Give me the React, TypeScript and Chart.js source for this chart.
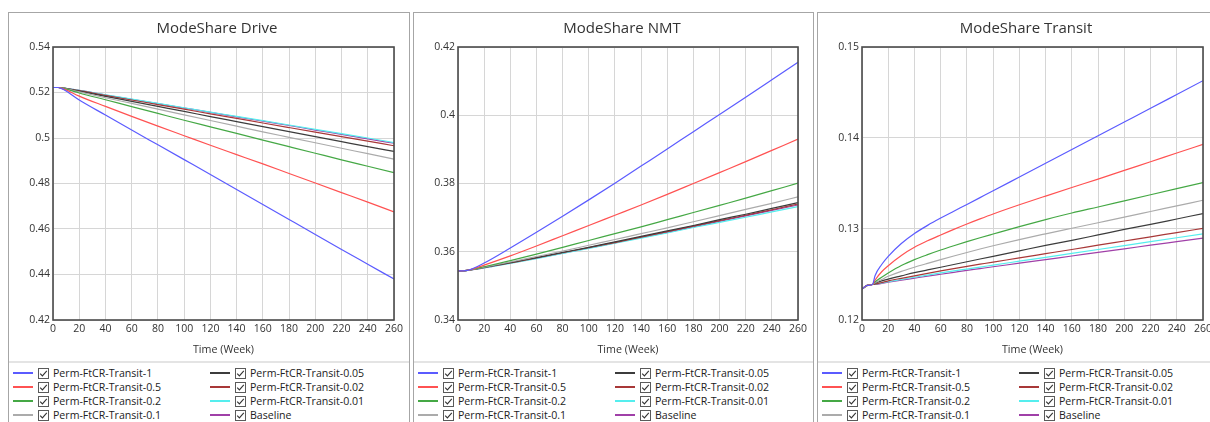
import React, { useEffect, useRef } from "react";
import { Chart, registerables } from "chart.js";

Chart.register(...registerables);

// ---------- data ----------
const SERIES_NAMES = [
  "Perm-FtCR-Transit-1",
  "Perm-FtCR-Transit-0.5",
  "Perm-FtCR-Transit-0.2",
  "Perm-FtCR-Transit-0.1",
  "Perm-FtCR-Transit-0.05",
  "Perm-FtCR-Transit-0.02",
  "Perm-FtCR-Transit-0.01",
  "Baseline",
];
const SERIES_COLORS = [
  "#5b5bff",
  "#ff5252",
  "#45a845",
  "#ababab",
  "#3c3c3c",
  "#a83838",
  "#55eeee",
  "#a040a8",
];

const X_TICKS = [0, 20, 40, 60, 80, 100, 120, 140, 160, 180, 200, 220, 240, 260];

// Drive / NMT time points (weeks)
const TIME_A = [0, 4, 8, 20, 40, 60, 80, 100, 120, 140, 160, 180, 200, 220, 240, 260];

const DRIVE_T1 = [0.5222, 0.5222, 0.5213, 0.5167, 0.5101, 0.5035, 0.497, 0.4905, 0.484, 0.4774, 0.4708, 0.4642, 0.4576, 0.451, 0.4445, 0.438];
const DRIVE_T05 = [0.5222, 0.5222, 0.5216, 0.5184, 0.5139, 0.5095, 0.5052, 0.501, 0.4968, 0.4927, 0.4886, 0.4844, 0.4802, 0.476, 0.4718, 0.4675];
const DRIVE_T02 = [0.5222, 0.5222, 0.5218, 0.5198, 0.5168, 0.5138, 0.5108, 0.5078, 0.5049, 0.502, 0.4991, 0.4962, 0.4933, 0.4904, 0.4876, 0.4848];
const DRIVE_T01 = [0.5222, 0.5222, 0.5219, 0.5203, 0.5177, 0.5152, 0.5127, 0.5102, 0.5077, 0.5052, 0.5027, 0.5003, 0.4979, 0.4955, 0.4931, 0.4907];
const DRIVE_T005 = [0.5222, 0.5222, 0.5219, 0.5206, 0.5183, 0.5161, 0.5139, 0.5117, 0.5094, 0.5072, 0.505, 0.5028, 0.5006, 0.4984, 0.4962, 0.4941];
const DRIVE_T002 = [0.5222, 0.5222, 0.5219, 0.5208, 0.5187, 0.5167, 0.5147, 0.5127, 0.5106, 0.5086, 0.5066, 0.5046, 0.5026, 0.5006, 0.4986, 0.4966];
const DRIVE_T001 = [0.5222, 0.5222, 0.5219, 0.521, 0.519, 0.5171, 0.5152, 0.5133, 0.5114, 0.5095, 0.5076, 0.5057, 0.5038, 0.5019, 0.5, 0.498];
const DRIVE_BASE = [0.5222, 0.5222, 0.5219, 0.5209, 0.5189, 0.517, 0.5151, 0.5132, 0.5113, 0.5093, 0.5074, 0.5055, 0.5035, 0.5016, 0.4996, 0.4977];

const NMT_T1 = [0.3544, 0.3544, 0.3546, 0.3567, 0.3611, 0.3657, 0.3704, 0.3752, 0.3801, 0.3851, 0.3901, 0.3952, 0.4002, 0.4053, 0.4104, 0.4155];
const NMT_T05 = [0.3544, 0.3544, 0.3546, 0.3561, 0.3588, 0.3617, 0.3647, 0.3677, 0.3707, 0.3737, 0.3768, 0.38, 0.3832, 0.3864, 0.3897, 0.393];
const NMT_T02 = [0.3544, 0.3544, 0.3546, 0.3556, 0.3574, 0.3593, 0.3613, 0.3633, 0.3653, 0.3673, 0.3694, 0.3715, 0.3736, 0.3757, 0.3779, 0.3801];
const NMT_T01 = [0.3544, 0.3544, 0.3546, 0.3555, 0.357, 0.3586, 0.3602, 0.3619, 0.3636, 0.3653, 0.367, 0.3688, 0.3706, 0.3724, 0.3742, 0.3761];
const NMT_T005 = [0.3544, 0.3544, 0.3546, 0.3554, 0.3568, 0.3583, 0.3598, 0.3613, 0.3629, 0.3645, 0.3661, 0.3677, 0.3694, 0.371, 0.3727, 0.3744];
const NMT_T002 = [0.3544, 0.3544, 0.3546, 0.3554, 0.3567, 0.3582, 0.3597, 0.3612, 0.3627, 0.3643, 0.3659, 0.3675, 0.3691, 0.3707, 0.3723, 0.374];
const NMT_T001 = [0.3544, 0.3544, 0.3546, 0.3553, 0.3566, 0.358, 0.3595, 0.361, 0.3625, 0.364, 0.3655, 0.3671, 0.3686, 0.3701, 0.3717, 0.3732];
const NMT_BASE = [0.3544, 0.3544, 0.3546, 0.3553, 0.3567, 0.3581, 0.3596, 0.3611, 0.3626, 0.3642, 0.3657, 0.3673, 0.3689, 0.3705, 0.3721, 0.3737];

// Transit time points (weeks)
const TIME_B = [0, 4, 8, 10, 15, 20, 30, 40, 50, 60, 70, 80, 90, 100, 120, 140, 160, 180, 200, 220, 240, 260];

const TRANSIT_T1 = [0.1234, 0.1238, 0.1239, 0.1249, 0.1261, 0.127, 0.1284, 0.1295, 0.1304, 0.1312, 0.13195, 0.1327, 0.13345, 0.1342, 0.13571, 0.13722, 0.13873, 0.14024, 0.14175, 0.14326, 0.14478, 0.1463];
const TRANSIT_T05 = [0.1234, 0.1238, 0.1239, 0.1244, 0.1253, 0.12597, 0.1271, 0.12799, 0.1287, 0.12934, 0.12996, 0.13055, 0.13111, 0.13165, 0.13266, 0.13362, 0.13456, 0.13548, 0.13644, 0.13739, 0.13835, 0.1393];
const TRANSIT_T02 = [0.1234, 0.1238, 0.1239, 0.1242, 0.1247, 0.12516, 0.12598, 0.12663, 0.12718, 0.12769, 0.12816, 0.12861, 0.12904, 0.12945, 0.13026, 0.13103, 0.13176, 0.13242, 0.13309, 0.13376, 0.13443, 0.1351];
const TRANSIT_T01 = [0.1234, 0.1238, 0.1239, 0.1241, 0.12445, 0.1248, 0.12535, 0.1258, 0.12622, 0.12663, 0.12703, 0.12742, 0.1278, 0.12816, 0.12884, 0.12947, 0.13008, 0.13069, 0.1313, 0.13192, 0.13254, 0.13316];
const TRANSIT_T005 = [0.1234, 0.1238, 0.1239, 0.12405, 0.1243, 0.1245, 0.12485, 0.1252, 0.1255, 0.1258, 0.1261, 0.1264, 0.1267, 0.127, 0.1276, 0.1282, 0.12875, 0.12935, 0.12995, 0.1305, 0.1311, 0.1317];
const TRANSIT_T002 = [0.1234, 0.1238, 0.1239, 0.12395, 0.12412, 0.1243, 0.12458, 0.12485, 0.12513, 0.1254, 0.12565, 0.1259, 0.12613, 0.12636, 0.12683, 0.12729, 0.12775, 0.12822, 0.12868, 0.12914, 0.12961, 0.13007];
const TRANSIT_T001 = [0.1234, 0.1238, 0.1239, 0.12393, 0.12407, 0.1242, 0.12445, 0.1247, 0.12494, 0.12517, 0.12539, 0.1256, 0.12581, 0.12603, 0.12646, 0.12689, 0.12732, 0.12775, 0.12818, 0.12861, 0.12904, 0.12947];
const TRANSIT_BASE = [0.1234, 0.1238, 0.1239, 0.1239, 0.12403, 0.12415, 0.12438, 0.1246, 0.12482, 0.12503, 0.12524, 0.12545, 0.12565, 0.12585, 0.12624, 0.12664, 0.12703, 0.12743, 0.12782, 0.12822, 0.12861, 0.129];

const DRIVE_Y_TICKS = [0.42, 0.44, 0.46, 0.48, 0.5, 0.52, 0.54];
const NMT_Y_TICKS = [0.34, 0.36, 0.38, 0.4, 0.42];
const TRANSIT_Y_TICKS = [0.12, 0.13, 0.14, 0.15];

// ---------- chart ----------
const FONT = "'Open Sans', 'Noto Sans', sans-serif";

const framePlugin = {
  id: "frame",
  afterDraw(chart: any) {
    const { ctx, chartArea } = chart;
    ctx.save();
    ctx.strokeStyle = "#4a4a4a";
    ctx.lineWidth = 1.6;
    ctx.strokeRect(chartArea.left, chartArea.top, chartArea.right - chartArea.left, chartArea.bottom - chartArea.top);
    ctx.restore();
  },
};

type PanelProps = {
  left: number;
  width: number;
  title: string;
  time: number[];
  series: number[][];
  yTicks: number[];
};

function Panel({ left, width, title, time, series, yTicks }: PanelProps) {
  const ref = useRef<HTMLCanvasElement | null>(null);

  useEffect(() => {
    if (!ref.current) return;
    const yMin = yTicks[0];
    const yMax = yTicks[yTicks.length - 1];
    const chart = new Chart(ref.current, {
      type: "line",
      data: {
        datasets: series.map((vals, i) => ({
          label: SERIES_NAMES[i],
          data: vals.map((v, j) => ({ x: time[j], y: v })),
          borderColor: SERIES_COLORS[i],
          backgroundColor: SERIES_COLORS[i],
          borderWidth: 1.2,
          pointRadius: 0,
          fill: false,
          cubicInterpolationMode: "monotone",
        })),
      },
      options: {
        animation: false,
        responsive: false,
        maintainAspectRatio: false,
        layout: { padding: { left: 0, right: 15, top: 34, bottom: 0 } },
        plugins: {
          legend: { display: false },
          tooltip: { enabled: false },
          title: { display: false },
        },
        scales: {
          x: {
            type: "linear",
            min: 0,
            max: 260,
            afterFit: (s: any) => {
              s.height = 41;
            },
            afterBuildTicks: (s: any) => {
              s.ticks = X_TICKS.map((v) => ({ value: v }));
            },
            ticks: {
              autoSkip: false,
              maxRotation: 0,
              padding: 3,
              color: "#333",
              font: { family: FONT, size: 10.5 },
            },
            grid: { color: "#d6d6d6", lineWidth: 1, drawTicks: false },
            border: { display: false },
            title: {
              display: true,
              text: "Time (Week)",
              color: "#333",
              font: { family: FONT, size: 10.7 },
              padding: { top: 7, bottom: 5 },
            },
          },
          y: {
            type: "linear",
            min: yMin,
            max: yMax,
            afterFit: (s: any) => {
              s.width = 44;
            },
            afterBuildTicks: (s: any) => {
              s.ticks = yTicks.map((v) => ({ value: v }));
            },
            ticks: {
              padding: 3,
              color: "#333",
              font: { family: FONT, size: 10.5 },
              callback: (v: any) => String(+Number(v).toFixed(4)),
            },
            grid: { color: "#d6d6d6", lineWidth: 1, drawTicks: false },
            border: { display: false },
          },
        },
      },
      plugins: [framePlugin],
    });
    return () => chart.destroy();
  }, []);

  const inner = width - 2;
  const legendItem = (i: number) => {
    const col = i < 4 ? 0 : 1;
    const row = i % 4;
    return (
      <div
        key={i}
        style={{
          position: "absolute",
          left: col === 0 ? 4 : 201,
          top: 3 + row * 14,
          height: 14,
          display: "flex",
          alignItems: "center",
          whiteSpace: "nowrap",
        }}
      >
        <span style={{ display: "inline-block", width: 20, height: 1.6, background: SERIES_COLORS[i] }} />
        <svg width={11} height={11} style={{ marginLeft: 5, display: "block" }}>
          <rect x={0.5} y={0.5} width={10} height={10} fill="#fff" stroke="#5a5a5a" strokeWidth={1} />
          <polyline points="2.2,5.6 4.4,7.9 8.8,2.9" fill="none" stroke="#333" strokeWidth={1.1} />
        </svg>
        <span style={{ marginLeft: 4, fontFamily: FONT, fontSize: 10.6, color: "#222", lineHeight: "14px" }}>
          {SERIES_NAMES[i]}
        </span>
      </div>
    );
  };

  return (
    <div
      style={{
        position: "absolute",
        left,
        top: 12,
        width,
        height: 440,
        boxSizing: "border-box",
        border: "1px solid #a6a6a6",
        background: "#fff",
      }}
    >
      <canvas ref={ref} width={inner} height={348} style={{ display: "block", width: inner, height: 348 }} />
      <div
        style={{
          position: "absolute",
          left: 0,
          top: 4,
          width: 416,
          height: 20,
          lineHeight: "20px",
          textAlign: "center",
          fontFamily: FONT,
          fontSize: 15,
          color: "#333",
          whiteSpace: "nowrap",
        }}
      >
        {title}
      </div>
      <div
        style={{
          position: "absolute",
          left: 0,
          top: 348,
          width: inner,
          height: 90,
          borderTop: "2px solid #e4e4e4",
        }}
      >
        {SERIES_NAMES.map((_, i) => legendItem(i))}
      </div>
    </div>
  );
}

export default function App() {
  return (
    <div
      style={{
        position: "fixed",
        left: 0,
        top: 0,
        width: 1210,
        height: 422,
        overflow: "hidden",
        background: "#fff",
      }}
    >
      <Panel
        left={8}
        width={402}
        title="ModeShare Drive"
        time={TIME_A}
        yTicks={DRIVE_Y_TICKS}
        series={[DRIVE_T1, DRIVE_T05, DRIVE_T02, DRIVE_T01, DRIVE_T005, DRIVE_T002, DRIVE_T001, DRIVE_BASE]}
      />
      <Panel
        left={413}
        width={401}
        title="ModeShare NMT"
        time={TIME_A}
        yTicks={NMT_Y_TICKS}
        series={[NMT_T1, NMT_T05, NMT_T02, NMT_T01, NMT_T005, NMT_T002, NMT_T001, NMT_BASE]}
      />
      <Panel
        left={817}
        width={402}
        title="ModeShare Transit"
        time={TIME_B}
        yTicks={TRANSIT_Y_TICKS}
        series={[TRANSIT_T1, TRANSIT_T05, TRANSIT_T02, TRANSIT_T01, TRANSIT_T005, TRANSIT_T002, TRANSIT_T001, TRANSIT_BASE]}
      />
    </div>
  );
}
